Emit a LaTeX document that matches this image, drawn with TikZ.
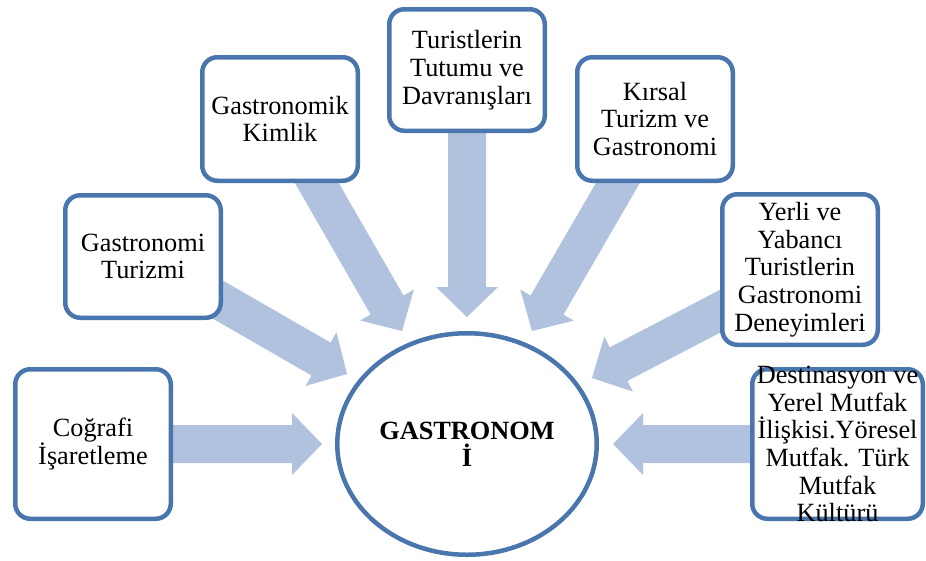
\documentclass[tikz,border=0pt]{standalone}
\usepackage{fontspec}
\setmainfont{Liberation Serif}
\usetikzlibrary{calc,shapes.geometric}
\pgfdeclarelayer{bg}
\pgfsetlayers{bg,main}
\definecolor{boxblue}{HTML}{4A76AE}
\definecolor{arrowblue}{HTML}{B1C2DE}
\tikzset{
  box/.style={draw=boxblue, line width=4.5pt, rounded corners=15pt, fill=white,
    align=center, inner sep=0pt, font=\fontsize{26.3}{27.7}\selectfont,
    minimum width=155.5pt},
  txt/.style={align=center, inner sep=0pt, font=\fontsize{26.3}{27.7}\selectfont},
  hub/.style={ellipse, draw=boxblue, line width=4.5pt, fill=white, inner sep=0pt,
    minimum width=259.5pt, minimum height=221.5pt, align=center,
    font=\fontsize{26.3}{27}\selectfont\bfseries},
  arr/.style={fill=arrowblue, draw=none},
}
\newcommand{\blockarrow}[3]{%
  \coordinate (#3) at ($(#2)!30pt!(#1)$);
  \fill[arr] ($(#1)!19pt!90:(#2)$) -- ($(#3)!19pt!90:(#2)$) -- ($(#3)!31pt!90:(#2)$)
    -- (#2) -- ($(#3)!31pt!-90:(#2)$) -- ($(#3)!19pt!-90:(#2)$) -- ($(#1)!19pt!-90:(#2)$) -- cycle;
}
\begin{document}
\begin{tikzpicture}[x=1pt, y=-1pt]
  \useasboundingbox (0,0) rectangle (926,560);

  \node[hub] (g) at (467,444) {GASTRONOM\\İ};

  \node[box, minimum height=149.5pt] (b1) at (93,444) {Coğrafi\\İşaretleme};
  \node[box, minimum height=122.5pt] (b2) at (143,256.5) {Gastronomi\\Turizmi};
  \node[box, minimum height=123.5pt] (b3) at (280,119) {Gastronomik\\Kimlik};
  \node[box, minimum height=121.5pt] (b4) at (467,70) {Turistlerin\\Tutumu ve\\Davranışları};
  \node[box, minimum height=123.5pt] (b5) at (655,119) {Kırsal\\Turizm ve\\Gastronomi};
  \node[box, minimum height=150.5pt] (b6) at (800,269.5) {Yerli ve\\Yabancı\\Turistlerin\\Gastronomi\\Deneyimleri};
  \node[box, minimum width=170.5pt, minimum height=149.5pt] (b7) at (837.5,444) {};
  \node[txt] (b7t) at (b7) {Destinasyon ve\\Yerel Mutfak\\İlişkisi.Yöresel\\Mutfak. Türk\\Mutfak\\Kültürü};

  \coordinate (t1) at (322,444);
  \coordinate (t2) at (347,374);
  \coordinate (t3) at (402,331);
  \coordinate (t4) at (467,317);
  \coordinate (t5) at (532,331);
  \coordinate (t6) at (592,378);
  \coordinate (t7) at (613,444);

  \begin{pgfonlayer}{bg}
    \fill[white] (0,0) rectangle (926,560);
    \blockarrow{b1}{t1}{h1}
    \blockarrow{b2}{t2}{h2}
    \blockarrow{b3}{t3}{h3}
    \blockarrow{b4}{t4}{h4}
    \blockarrow{b5}{t5}{h5}
    \blockarrow{b6}{t6}{h6}
    \blockarrow{b7}{t7}{h7}
  \end{pgfonlayer}
\end{tikzpicture}
\end{document}
